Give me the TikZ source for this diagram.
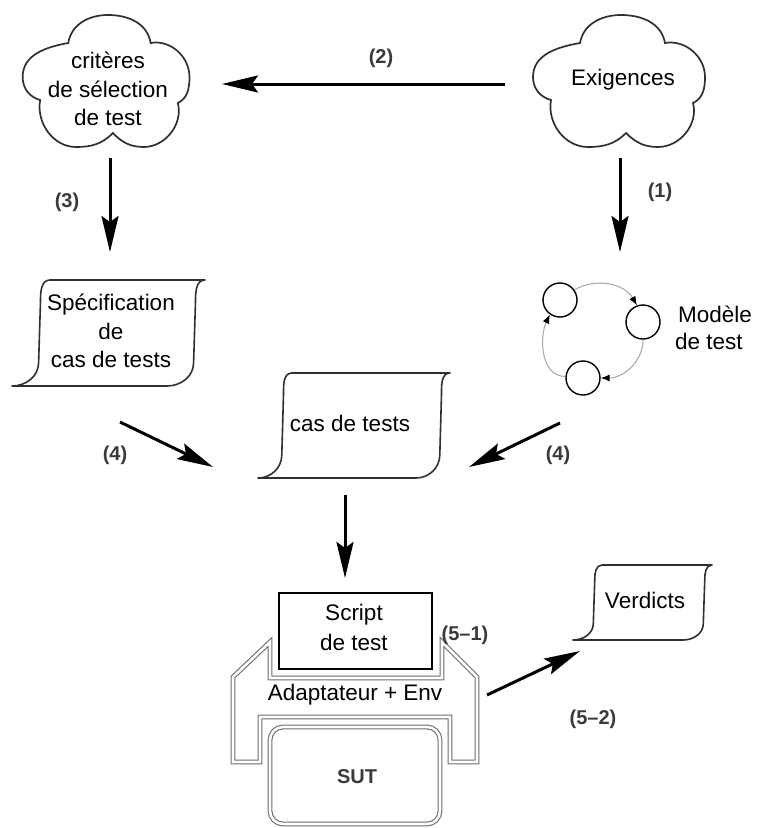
\documentclass[tikz,border=0pt]{standalone}
\usepackage{fontspec}
\setmainfont{Liberation Sans}
\usetikzlibrary{arrows.meta}
\definecolor{lblc}{HTML}{3A3A3A}
\definecolor{edgec}{HTML}{303030}

\tikzset{
 txt/.style={font=\fontsize{22.5}{28.5}\selectfont, align=center, inner sep=0pt},
 lbl/.style={font=\fontsize{20}{22}\selectfont\bfseries, text=lblc, inner sep=0pt},
 bigarrow/.style={line width=3pt, -{Stealth[length=36pt,width=17pt,inset=6pt]}},
 cloudline/.style={draw=edgec, line width=1.7pt},
 tapeline/.style={draw=edgec, line width=1.6pt, line join=round},
 dbl/.style={draw=gray!85!black, line width=1.1pt, double=white, double distance=2.6pt},
 state/.style={circle, draw=black, line width=1.4pt, minimum size=34pt, inner sep=0pt},
 trans/.style={draw=gray!70, line width=1pt, -{Latex[length=9pt,width=7pt,color=black]}},
}

\newcommand{\cloudpath}[3]{%
 \draw[cloudline, shift={(#1,-#2)}, xscale=#3] (-41,38) to[out=80,in=180] (0,66) to[out=0,in=100] (44,38)
   to[out=10,in=90] (84,4) to[out=-90,in=25] (72,-22) to[out=-75,in=0] (37,-66)
   to[out=180,in=-45] (5,-52) to[out=-135,in=0] (-33,-66) to[out=180,in=-100] (-70,-19)
   to[out=165,in=-90] (-88,4) to[out=90,in=190] (-41,38) -- cycle;}

\newcommand{\tapeshape}[5]{%
 \draw[tapeline] (#1,-#2) -- ({#1+#3},-#2) to[out=180,in=90] ({#1+#3-0.25*#5},{-#2-0.2*#4})
   -- ({#1+#3-0.3*#5},{-#2-0.78*#4}) to[out=-90,in=0] ({#1+#3-#5},{-#2-#4})
   -- ({#1-#5},{-#2-#4}) to[out=0,in=-90] ({#1-0.3*#5},{-#2-0.78*#4})
   -- ({#1-0.25*#5},{-#2-0.2*#4}) to[out=90,in=180] (#1,-#2) -- cycle;}

\begin{document}
\begin{tikzpicture}[x=1pt,y=1pt]
\fill[white] (0,0) rectangle (757,-828);
\useasboundingbox (0,0) rectangle (757,-828);

% clouds
\cloudpath{108}{81}{0.97}
\node[txt] (crit) at (108,-89) {critères\\de sélection\\de test};
\cloudpath{621}{81}{1}
\node[txt] (exig) at (623,-80) {Exigences};

% tapes
\tapeshape{50}{280}{155}{106}{38}
\node[txt] (spec) at (111,-331) {Spécification\\de\\cas de tests};
\tapeshape{292}{373}{158}{105}{34}
\node[txt] (cas) at (350,-423) {cas de tests};
\tapeshape{602}{565}{110}{75}{29}
\node[txt] (verd) at (645,-600) {Verdicts};

% model
\node[state] (m1) at (560,-300) {};
\node[state] (m2) at (643,-322) {};
\node[state] (m3) at (583,-378) {};
\draw[trans] (m1.35) to[out=30,in=120] (m2.110);
\draw[trans] (m2.-90) to[out=-90,in=0] (m3.0);
\draw[trans] (m3.175) to[out=180,in=-115] (m1.-125);
\node[txt, font=\fontsize{22.5}{27}\selectfont, align=left, anchor=west] (modele) at (675,-328) {\hspace*{3pt}Modèle\\de test};

% bottom assembly
\draw[line width=1.4pt] (279,-593) rectangle (432,-669);
\node[txt, font=\fontsize{22.5}{30}\selectfont] (script) at (354,-627) {Script\\de test};
\draw[dbl] (270,-642) -- (233,-677) -- (233,-762) -- (260,-762) -- (260,-717) -- (450,-717)
  -- (450,-762) -- (477,-762) -- (477,-677) -- (442,-642) -- (442,-678) -- (270,-678) -- cycle;
\node[txt] (adapt) at (355,-695) {Adaptateur + Env};
\draw[dbl, rounded corners=13pt] (270,-727) rectangle (440,-824);
\node[txt, font=\fontsize{20}{22}\selectfont\bfseries, text=lblc] (sut) at (357,-777) {SUT};

% arrows
\coordinate (a2s) at (505,-84);  \coordinate (a2e) at (222,-84);
\coordinate (a3s) at (110,-158); \coordinate (a3e) at (110,-252);
\coordinate (a1s) at (620,-158); \coordinate (a1e) at (620,-252);
\coordinate (a4ls) at (120,-422); \coordinate (a4le) at (213,-467);
\coordinate (a4rs) at (560,-423); \coordinate (a4re) at (469,-467);
\coordinate (a5s) at (345,-495); \coordinate (a5e) at (345,-578);
\coordinate (a52s) at (487,-695); \coordinate (a52e) at (580,-651);
\draw[bigarrow] (a2s) -- (a2e);
\draw[bigarrow] (a3s) -- (a3e);
\draw[bigarrow] (a1s) -- (a1e);
\draw[bigarrow] (a4ls) -- (a4le);
\draw[bigarrow] (a4rs) -- (a4re);
\draw[bigarrow] (a5s) -- (a5e);
\draw[bigarrow] (a52s) -- (a52e);

% labels
\node[lbl] (l2) at (381,-58) {(2)};
\node[lbl] (l3) at (67,-202) {(3)};
\node[lbl] (l1) at (660,-192) {(1)};
\node[lbl] (l4a) at (115,-455) {(4)};
\node[lbl] (l4b) at (558,-455) {(4)};
\node[lbl] (l51) at (465,-635) {(5–1)};
\node[lbl] (l52) at (593,-719) {(5–2)};
\end{tikzpicture}
\end{document}
